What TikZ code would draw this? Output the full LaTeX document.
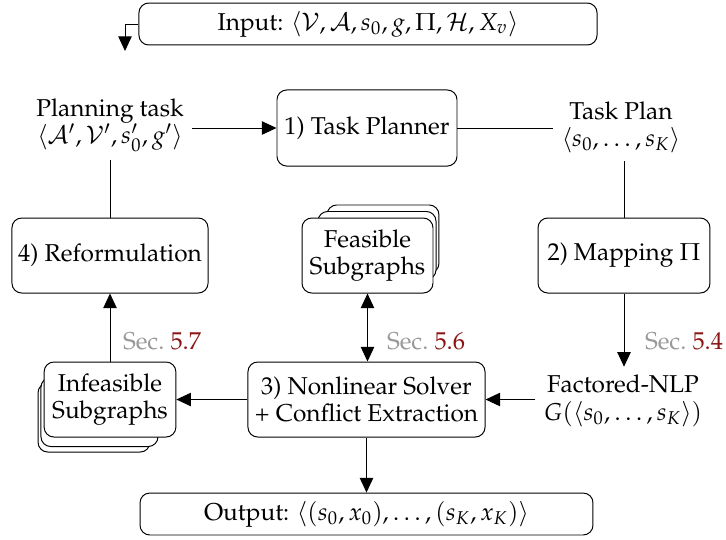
\documentclass[tikz,border=0pt]{standalone}
\usepackage[T1]{fontenc}
\usepackage{mathpazo}
\usetikzlibrary{arrows.meta}
\definecolor{secgray}{rgb}{0.6,0.6,0.6}
\definecolor{secred}{rgb}{0.55,0.08,0.08}
\tikzset{
  box/.style={draw,rounded corners=4pt,fill=white,align=center,inner sep=0pt},
  txt/.style={align=center},
  sec/.style={text=secgray},
  >={Triangle[length=6pt,width=5.5pt]}
}
\newcommand{\secref}[1]{Sec.~\textcolor{secred}{#1}}
\begin{document}
\begin{tikzpicture}[x=0.41pt,y=-0.41pt,font={\fontsize{10}{11.2}\selectfont}]
  \useasboundingbox (0,0) rectangle (726,539);
  \node (input) at (368,24) [box,minimum width=187.8pt,minimum height=17.2pt] {Input: $\langle\mathcal{V},\mathcal{A},s_0,g,\Pi,\mathcal{H},X_v\rangle$};
  \coordinate (start) at (125,51);
  \node (plantask) at (110,125) [txt] {Planning task\\$\langle\mathcal{A}',\mathcal{V}',s'_0,g'\rangle$};
  \node (planner) at (367,128) [box,minimum width=73.8pt,minimum height=31.2pt] {1) Task Planner};
  \node (taskplan) at (621,127) [txt] {Task Plan\\$\langle s_0,\dots,s_K\rangle$};
  \node (reform) at (110,255.5) [box,minimum width=80.4pt,minimum height=30.75pt] {4) Reformulation};
  \node (feas3) at (383,239) [box,minimum width=45.9pt,minimum height=27.9pt] {};
  \node (feas2) at (377,245.5) [box,minimum width=48.4pt,minimum height=27.9pt] {};
  \node (feas) at (367.5,255.5) [box,minimum width=53.7pt,minimum height=30.75pt] {Feasible\\Subgraphs};
  \node (mapping) at (624,255.5) [box,minimum width=70.5pt,minimum height=30.75pt] {2) Mapping $\Pi$};
  \node (infeas3) at (94,417.5) [box,minimum width=45.9pt,minimum height=28.3pt] {};
  \node (infeas2) at (99.5,412) [box,minimum width=48pt,minimum height=28.3pt] {};
  \node (infeas) at (110,399.5) [box,minimum width=54pt,minimum height=30.75pt] {Infeasible\\Subgraphs};
  \node (nonlin) at (366.5,399.5) [box,minimum width=97.2pt,minimum height=30.75pt] {3) Nonlinear Solver\\+ Conflict Extraction};
  \node (factored) at (623,401) [txt] {Factored-NLP\\$G(\langle s_0,\dots,s_K\rangle)$};
  \node (output) at (366.5,514) [box,minimum width=185.7pt,minimum height=17.2pt] {Output: $\langle(s_0,x_0),\dots,(s_K,x_K)\rangle$};
  \node (sec57) at (162,341) [sec] {\secref{5.7}};
  \node (sec56) at (426,341) [sec] {\secref{5.6}};
  \node (sec54) at (684,341) [sec] {\secref{5.4}};
  \draw [->] (input.west) -| (start);
  \draw [->] (plantask.east |- planner) -- (planner);
  \draw (planner) -- (taskplan.west |- planner);
  \draw (taskplan.south -| mapping) -- (mapping);
  \draw [->] (mapping) -- (mapping |- factored.north);
  \draw [->] (factored.west |- nonlin) -- (nonlin);
  \draw [<->] (feas.south) -- (feas.south |- nonlin.north);
  \draw [->] (nonlin) -- (infeas);
  \draw [->] (infeas) -- (reform);
  \draw (plantask.south) -- (reform);
  \draw [->] (nonlin) -- (output);
\end{tikzpicture}
\end{document}
